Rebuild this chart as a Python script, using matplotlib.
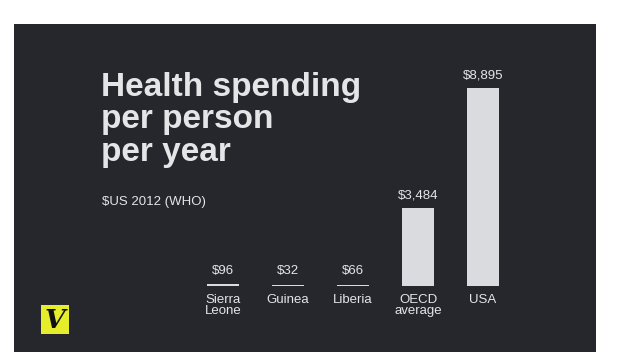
import matplotlib
matplotlib.use("Agg")
import matplotlib.pyplot as plt
from matplotlib.patches import Rectangle

# data
countries = ["Sierra\nLeone", "Guinea", "Liberia", "OECD\naverage", "USA"]
spending = [96, 32, 66, 3484, 8895]
value_labels = ["$96", "$32", "$66", "$3,484", "$8,895"]

BG = "#26272d"
BAR = "#d9dbde"
TXT = "#e4e5e7"
FONT = ["Liberation Sans Narrow", "Liberation Sans", "DejaVu Sans"]

W, H = 619, 361
fig = plt.figure(figsize=(W / 100, H / 100), dpi=100)
fig.patch.set_facecolor("white")

# dark panel (behind everything)
fig.patches.append(Rectangle((14 / W, 1 - 352 / H), (596 - 14) / W, (352 - 24) / H,
                             transform=fig.transFigure, facecolor=BG, edgecolor="none",
                             zorder=-10))

# bars: baseline at y=286 px, 65 px between centres
ax = fig.add_axes([190.5 / W, 1 - 286 / H, 325 / W, 222.6 / H])
ax.set_facecolor("none")
x = range(len(countries))
ax.bar(x, spending, width=0.49, color=BAR, linewidth=0)
ax.set_xlim(-0.5, 4.5)
ax.set_ylim(0, 10000)
ax.axis("off")

for i, (v, lab) in enumerate(zip(spending, value_labels)):
    ax.annotate(lab, (i, max(v, 90)), xytext=(0, 5), textcoords="offset points",
                ha="center", va="bottom", color=TXT, fontsize=9.5, family=FONT,
                annotation_clip=False)
    ax.annotate(countries[i], (i, 0), xytext=(0, -6), textcoords="offset points",
                ha="center", va="top", color=TXT, fontsize=9.5, family=FONT,
                linespacing=0.9, annotation_clip=False)

# title and subtitle
fig.text(101 / W, 1 - 72 / H, "Health spending\nper person\nper year", ha="left", va="top",
         color=TXT, fontsize=24, family=FONT, weight="bold", linespacing=1.06)
fig.text(102 / W, 1 - 196 / H, "$US 2012 (WHO)", ha="left", va="top",
         color=TXT, fontsize=9.5, family=FONT)

# logo
fig.patches.append(Rectangle((41 / W, 1 - 334 / H), 28 / W, 29 / H,
                             transform=fig.transFigure, facecolor="#e6ee2c", edgecolor="none"))
fig.text(55 / W, 1 - 320 / H, "V", ha="center", va="center", color="#111111",
         fontsize=19, family="DejaVu Serif", weight="bold", style="italic")

fig.savefig("out.png", dpi=100, facecolor="white")
